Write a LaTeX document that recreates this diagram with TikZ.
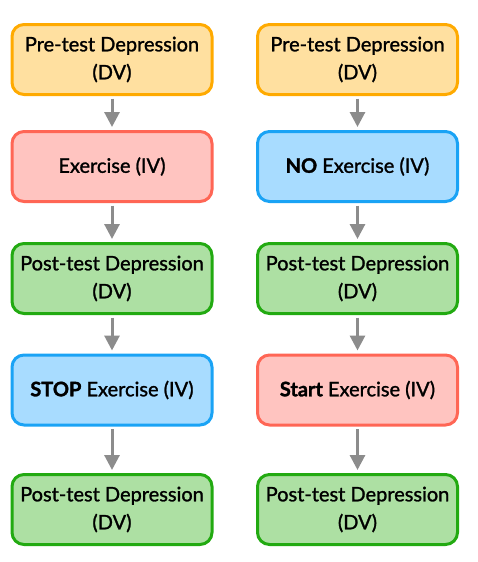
\documentclass[tikz,border=0pt]{standalone}
\usepackage{fontspec}
\setmainfont{Lato}[UprightFeatures={RawFeature={embolden=1.3}},BoldFeatures={RawFeature={embolden=1.5}}]
\usetikzlibrary{arrows.meta}
\definecolor{orfill}{HTML}{FFE0A0}
\definecolor{ordraw}{HTML}{FFAA00}
\definecolor{rdfill}{HTML}{FFC4C0}
\definecolor{rddraw}{HTML}{FF6655}
\definecolor{blfill}{HTML}{A8DCFF}
\definecolor{bldraw}{HTML}{1AA3F5}
\definecolor{grfill}{HTML}{ADE0A3}
\definecolor{grdraw}{HTML}{22AA11}
\definecolor{arrgray}{HTML}{8C8C8C}
\tikzset{
  box/.style={rounded corners=12pt, line width=3pt, minimum width=200pt, minimum height=70pt,
    inner sep=0pt, align=center, font=\fontsize{20}{28}\selectfont},
  orbox/.style={box, draw=ordraw, fill=orfill},
  rdbox/.style={box, draw=rddraw, fill=rdfill},
  blbox/.style={box, draw=bldraw, fill=blfill},
  grbox/.style={box, draw=grdraw, fill=grfill},
  flow/.style={draw=arrgray, line width=3pt, -{Triangle[width=15pt,length=15pt]}, shorten <=2.5pt, shorten >=3pt}
}
\begin{document}
\begin{tikzpicture}[x=1pt,y=-1pt]
\useasboundingbox (0,0) rectangle (478,562);
\node[orbox] (l1) at (112,59.5) {Pre-test Depression\\(DV)};
\node[rdbox] (l2) at (112,166.5) {Exercise (IV)};
\node[grbox] (l3) at (112,278.5) {Post-test Depression\\(DV)};
\node[blbox] (l4) at (112,390) {\textbf{STOP} Exercise (IV)};
\node[grbox] (l5) at (112,509.5) {Post-test Depression\\(DV)};
\node[orbox] (r1) at (357.5,59.5) {Pre-test Depression\\(DV)};
\node[blbox] (r2) at (357.5,166.5) {\textbf{NO} Exercise (IV)};
\node[grbox] (r3) at (357.5,278.5) {Post-test Depression\\(DV)};
\node[rdbox] (r4) at (357.5,390) {\textbf{Start} Exercise (IV)};
\node[grbox] (r5) at (357.5,509.5) {Post-test Depression\\(DV)};
\draw[flow] (l1) -- (l2);
\draw[flow] (l2) -- (l3);
\draw[flow] (l3) -- (l4);
\draw[flow] (l4) -- (l5);
\draw[flow] (r1) -- (r2);
\draw[flow] (r2) -- (r3);
\draw[flow] (r3) -- (r4);
\draw[flow] (r4) -- (r5);
\end{tikzpicture}
\end{document}
